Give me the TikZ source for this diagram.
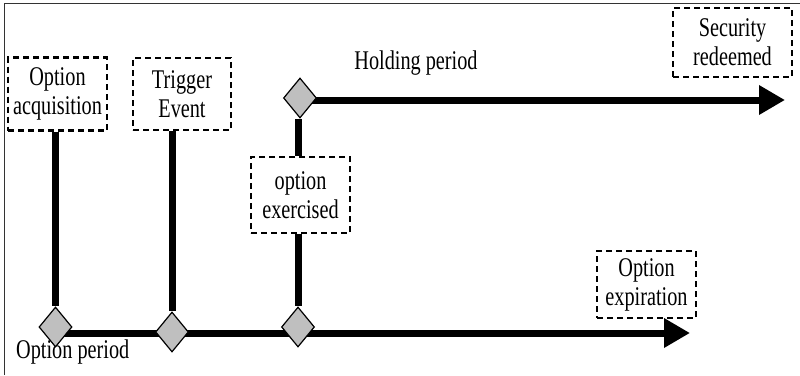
\documentclass[tikz,border=0pt]{standalone}
\usepackage{fontspec}
\setmainfont{Liberation Serif}[FakeStretch=0.75]
\usetikzlibrary{shapes.geometric,arrows.meta,backgrounds}
\begin{document}
\begin{tikzpicture}[x=1pt,y=-1pt,
  font=\fontsize{27}{29}\selectfont,
  dbox/.style={draw=black,dashed,dash pattern=on 6pt off 4pt,line width=2.2pt,align=center,inner sep=0pt},
  dia/.style={diamond,draw=black,line width=1.2pt,fill=black!25,minimum width=33pt,minimum height=40pt,inner sep=0pt},
  thick line/.style={line width=7pt},
  thick arrow/.style={line width=7pt,-{Triangle[length=26pt,width=28pt]}}]
\useasboundingbox (0,0) rectangle (800,375);
\draw[line width=1.5pt,black!80] (4.5,375) -- (4.5,3.5) -- (800,3.5);
% boxes
\node[dbox,minimum width=99pt,minimum height=73pt] (acq) at (57.5,94) {Option\\acquisition};
\node[dbox,minimum width=98pt,minimum height=72pt] (trig) at (182,94) {Trigger\\Event};
\node[dbox,minimum width=99pt,minimum height=76pt] (exe) at (300.5,195) {option\\exercised};
\node[dbox,minimum width=119pt,minimum height=69pt] (sec) at (732.5,42.5) {Security\\redeemed};
\node[dbox,minimum width=99pt,minimum height=67pt] (expi) at (646.5,284.5) {Option\\expiration};
% labels
\node[anchor=base,inner sep=0pt] (hold) at (416,69) {Holding period};
\node[anchor=base west,inner sep=0pt] (oper) at (16,358) {Option period};
% diamonds
\node[dia] (d1) at (55.5,327) {};
\node[dia] (d2) at (172,332) {};
\node[dia] (d3) at (298,327) {};
\node[dia] (d4) at (300,98) {};
\coordinate (bend) at (690,333);
\coordinate (tend) at (785,100);
\begin{scope}[on background layer]
\draw[thick arrow] (d1.center |- bend) -- (bend);
\draw[thick arrow] (d4.center |- tend) -- (tend);
\end{scope}
\draw[thick line] (acq.south -| d1.center) -- (d1.north);
\draw[thick line] (trig.south -| d2.center) -- (d2.north);
\draw[thick line] (d4.south -| d3.center) -- (exe.north -| d3.center);
\draw[thick line] (exe.south -| d3.center) -- (d3.north);
\end{tikzpicture}
\end{document}
